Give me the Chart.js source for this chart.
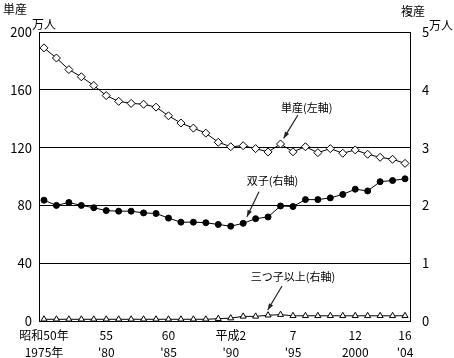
<!DOCTYPE html>
<html>
<head>
<meta charset="utf-8">
<script src="https://cdn.jsdelivr.net/npm/chart.js@4"></script>
<style>
    body { margin: 0; background: #fff; }
    #wrap { width: 454px; height: 358px; position: relative; }
</style>
</head>
<body>
<div id="wrap"><canvas id="birthChart"></canvas></div>
<script>
const years = [1975, 1976, 1977, 1978, 1979, 1980, 1981, 1982, 1983, 1984,
    1985, 1986, 1987, 1988, 1989, 1990, 1991, 1992, 1993, 1994,
    1995, 1996, 1997, 1998, 1999, 2000, 2001, 2002, 2003, 2004];

// 単産 (左軸, 万人)
const singleBirths = [189, 182, 174, 169, 163, 156, 152, 150.6, 150, 148,
    142, 137, 133.5, 130, 123.7, 120.6, 121.3, 119.3, 117, 122.5,
    117.1, 120.6, 116.5, 119.3, 116.1, 118.4, 115.4, 113.3, 111.9, 109.1];

// 双子 (右軸, 万人)
const twinBirths = [2.09, 2.00, 2.05, 2.00, 1.96, 1.91, 1.90, 1.90, 1.87, 1.86,
    1.78, 1.71, 1.71, 1.70, 1.67, 1.64, 1.69, 1.77, 1.80, 1.99,
    1.98, 2.10, 2.10, 2.13, 2.19, 2.28, 2.25, 2.41, 2.43, 2.46];

// 三つ子以上 (右軸, 万人)
const tripletBirths = [0.03, 0.03, 0.03, 0.03, 0.03, 0.03, 0.03, 0.03, 0.03, 0.03,
    0.03, 0.03, 0.03, 0.03, 0.04, 0.05, 0.08, 0.08, 0.10, 0.11,
    0.09, 0.09, 0.09, 0.09, 0.09, 0.09, 0.09, 0.09, 0.09, 0.09];

const tickYears = [1975, 1980, 1985, 1990, 1995, 2000, 2004];
const tickLabelTop = ['昭和50年', '55', '60', '平成2', '7', '12', '16'];
const tickLabelBottom = ['1975年', "'80", "'85", "'90", "'95", '2000', "'04"];

const leftTicks = [0, 40, 80, 120, 160, 200];
const rightTicks = [0, 1, 2, 3, 4, 5];

// callouts, in data units of the left axis
const notes = [
    { text: '単産(左軸)', at: [1996.1, 147.4], from: [1995.4, 142.6], to: [1994.25, 126.4] },
    { text: '双子(右軸)', at: [1993.35, 96.9], from: [1992.27, 89.5], to: [1991.3, 72.2] },
    { text: '三つ子以上(右軸)', at: [1995.0, 30.4], from: [1994.12, 24.2], to: [1992.97, 7.6] }
];

const JP = '"Noto Sans CJK JP", "DejaVu Sans", sans-serif';

function toPoints(values) {
    return years.map((y, i) => ({ x: y, y: values[i] }));
}

const notesPlugin = {
    id: 'notes',
    afterDatasetsDraw(chart) {
        const ctx = chart.ctx;
        const xs = chart.scales.x, ys = chart.scales.y;
        ctx.save();
        ctx.font = '11px ' + JP;
        ctx.fillStyle = '#000';
        ctx.textAlign = 'center';
        ctx.textBaseline = 'middle';
        notes.forEach(n => {
            ctx.fillText(n.text, xs.getPixelForValue(n.at[0]), ys.getPixelForValue(n.at[1]));
            const x1 = xs.getPixelForValue(n.from[0]), y1 = ys.getPixelForValue(n.from[1]);
            const x2 = xs.getPixelForValue(n.to[0]), y2 = ys.getPixelForValue(n.to[1]);
            ctx.strokeStyle = '#222';
            ctx.lineWidth = 1.2;
            ctx.beginPath();
            ctx.moveTo(x1, y1);
            ctx.lineTo(x2, y2);
            ctx.stroke();
            const a = Math.atan2(y2 - y1, x2 - x1);
            ctx.fillStyle = '#222';
            ctx.beginPath();
            ctx.moveTo(x2, y2);
            ctx.lineTo(x2 - 7 * Math.cos(a - 0.35), y2 - 7 * Math.sin(a - 0.35));
            ctx.lineTo(x2 - 7 * Math.cos(a + 0.35), y2 - 7 * Math.sin(a + 0.35));
            ctx.closePath();
            ctx.fill();
            ctx.fillStyle = '#000';
        });

        // axis titles
        ctx.font = '12px ' + JP;
        ctx.textAlign = 'left';
        ctx.textBaseline = 'top';
        ctx.fillText('単産', 3, 3);
        ctx.fillText('万人', 32, 18);
        ctx.fillText('複産', 401, 5);
        ctx.fillText('万人', 429, 19);
        ctx.restore();
    }
};

new Chart(document.getElementById('birthChart'), {
    type: 'line',
    data: {
        datasets: [
            {
                label: '単産',
                data: toPoints(singleBirths),
                yAxisID: 'y',
                borderColor: '#000',
                borderWidth: 1,
                pointStyle: 'rectRot',
                pointRadius: 4,
                pointBackgroundColor: '#fff',
                pointBorderColor: '#000',
                pointBorderWidth: 1
            },
            {
                label: '双子',
                data: toPoints(twinBirths),
                yAxisID: 'y1',
                borderColor: '#000',
                borderWidth: 1,
                pointStyle: 'circle',
                pointRadius: 3,
                pointBackgroundColor: '#000',
                pointBorderColor: '#000',
                pointBorderWidth: 1
            },
            {
                label: '三つ子以上',
                data: toPoints(tripletBirths),
                yAxisID: 'y1',
                borderColor: '#000',
                borderWidth: 1,
                pointStyle: 'triangle',
                pointRadius: 3.5,
                pointBackgroundColor: '#fff',
                pointBorderColor: '#000',
                pointBorderWidth: 1
            }
        ]
    },
    options: {
        responsive: true,
        maintainAspectRatio: false,
        animation: false,
        layout: {
            autoPadding: false,
            padding: { top: 32, left: 0, right: 0, bottom: 0 }
        },
        scales: {
            x: {
                type: 'linear',
                min: 1974.6,
                max: 2004.4,
                afterBuildTicks: axis => { axis.ticks = tickYears.map(v => ({ value: v })); },
                afterFit: scale => { scale.height = 37; },
                grid: { display: false, drawTicks: false },
                border: { display: true, color: '#000', width: 1 },
                ticks: {
                    autoSkip: false,
                    maxRotation: 0,
                    padding: 6,
                    color: '#000',
                    font: { family: JP, size: 12, lineHeight: 1.4 },
                    callback: (value, index) => [tickLabelTop[index], tickLabelBottom[index]]
                }
            },
            y: {
                position: 'left',
                min: 0,
                max: 200,
                afterBuildTicks: axis => { axis.ticks = leftTicks.map(v => ({ value: v })); },
                afterFit: scale => { scale.width = 39; },
                grid: { color: '#000', lineWidth: 1, drawTicks: false },
                border: { display: true, color: '#000', width: 1 },
                ticks: {
                    padding: 7,
                    color: '#000',
                    font: { family: JP, size: 13 }
                }
            },
            y1: {
                position: 'right',
                min: 0,
                max: 5,
                afterBuildTicks: axis => { axis.ticks = rightTicks.map(v => ({ value: v })); },
                afterFit: scale => { scale.width = 44; },
                grid: { display: false, drawTicks: false },
                border: { display: true, color: '#000', width: 1 },
                ticks: {
                    padding: 12,
                    color: '#000',
                    font: { family: JP, size: 13 }
                }
            }
        },
        plugins: {
            legend: { display: false },
            tooltip: { enabled: false }
        }
    },
    plugins: [notesPlugin]
});
</script>
</body>
</html>
